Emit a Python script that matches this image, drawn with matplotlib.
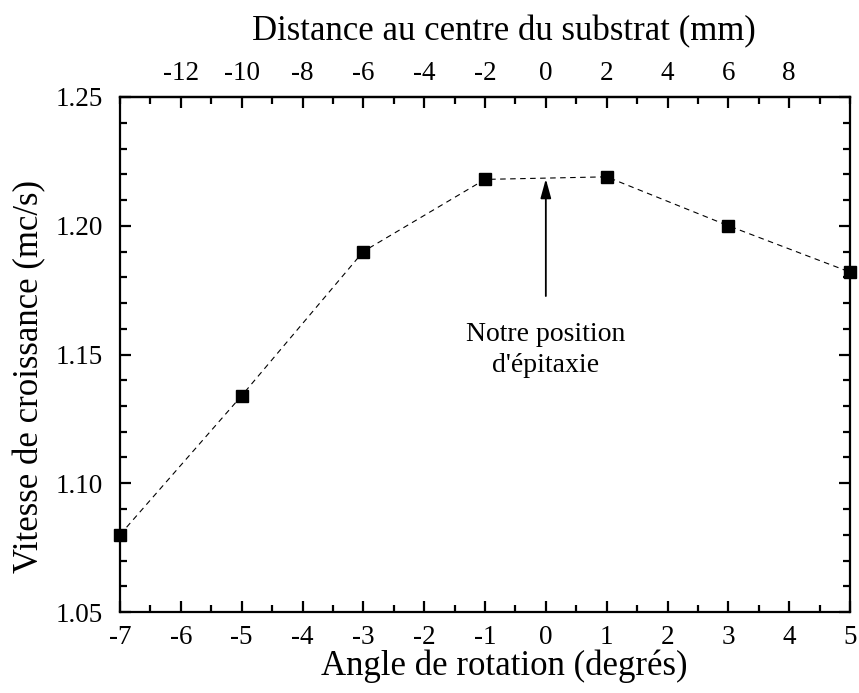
import matplotlib
matplotlib.use("Agg")
import matplotlib.pyplot as plt
from matplotlib.ticker import MultipleLocator, FixedLocator, FuncFormatter, FormatStrFormatter

plt.rcParams['font.family'] = ['Liberation Serif', 'DejaVu Serif']

angles = [-7, -5, -3, -1, 1, 3, 5]
vitesse = [1.080, 1.134, 1.190, 1.218, 1.219, 1.200, 1.182]
top_ticks = [-12, -10, -8, -6, -4, -2, 0, 2, 4, 6, 8]
arrow_x = 0
arrow_tip = 1.2182
arrow_tail = 1.1727
note_text = "Notre position\nd'épitaxie"

fig = plt.figure(figsize=(8.59, 6.93), dpi=100)
ax = fig.add_axes([120/859, 1-612/693, 730/859, 515/693])

ax.plot(angles, vitesse, linestyle=(0, (5, 4)), color='black', linewidth=0.8,
        marker='s', markersize=9, markerfacecolor='black', markeredgecolor='black',
        clip_on=False, zorder=3)

ax.set_xlim(-7, 5)
ax.set_ylim(1.05, 1.25)
ax.xaxis.set_major_locator(MultipleLocator(1))
ax.xaxis.set_minor_locator(MultipleLocator(0.5))
ax.yaxis.set_major_locator(MultipleLocator(0.05))
ax.yaxis.set_minor_locator(MultipleLocator(0.01))
ax.yaxis.set_major_formatter(FormatStrFormatter('%.2f'))
ax.xaxis.set_major_formatter(FuncFormatter(lambda v, p: f"{int(round(v))}"))

for s in ax.spines.values():
    s.set_linewidth(1.6)

ax.tick_params(which='both', direction='in', top=False, right=True, labelsize=19.5, width=1.6)
ax.tick_params(which='major', length=8)
ax.tick_params(which='minor', length=5)
ax.tick_params(axis='x', which='major', pad=9)
ax.tick_params(axis='y', which='major', pad=12)

ax.set_xlabel('Angle de rotation (degrés)', fontsize=25, labelpad=0)
ax.xaxis.label.set_x(0.527)
ax.set_ylabel('Vitesse de croissance (mc/s)', fontsize=25, labelpad=7)
ax.yaxis.label.set_y(0.457)

sec = ax.secondary_xaxis('top', functions=(lambda x: 2*x, lambda x: x/2))
sec.xaxis.set_major_locator(FixedLocator(top_ticks))
sec.xaxis.set_minor_locator(MultipleLocator(1))
sec.xaxis.set_major_formatter(FuncFormatter(lambda v, p: f"{int(round(v))}"))
sec.tick_params(which='both', direction='in', labelsize=19.5, width=1.6)
sec.tick_params(which='major', length=8, pad=8)
sec.tick_params(which='minor', length=5)
sec.spines['top'].set_linewidth(1.6)
sec.set_xlabel('Distance au centre du substrat (mm)', fontsize=25, labelpad=15)
sec.xaxis.label.set_x(0.526)

ax.annotate('', xy=(arrow_x, arrow_tip), xytext=(arrow_x, arrow_tail),
            arrowprops=dict(arrowstyle='-|>,head_length=0.58,head_width=0.16', color='black', lw=1.3,
                            mutation_scale=20, shrinkA=0, shrinkB=0))
ax.text(arrow_x, 1.1517, note_text, ha='center', va='center', fontsize=20,
        linespacing=1.33)

fig.savefig('out.png', dpi=100)
